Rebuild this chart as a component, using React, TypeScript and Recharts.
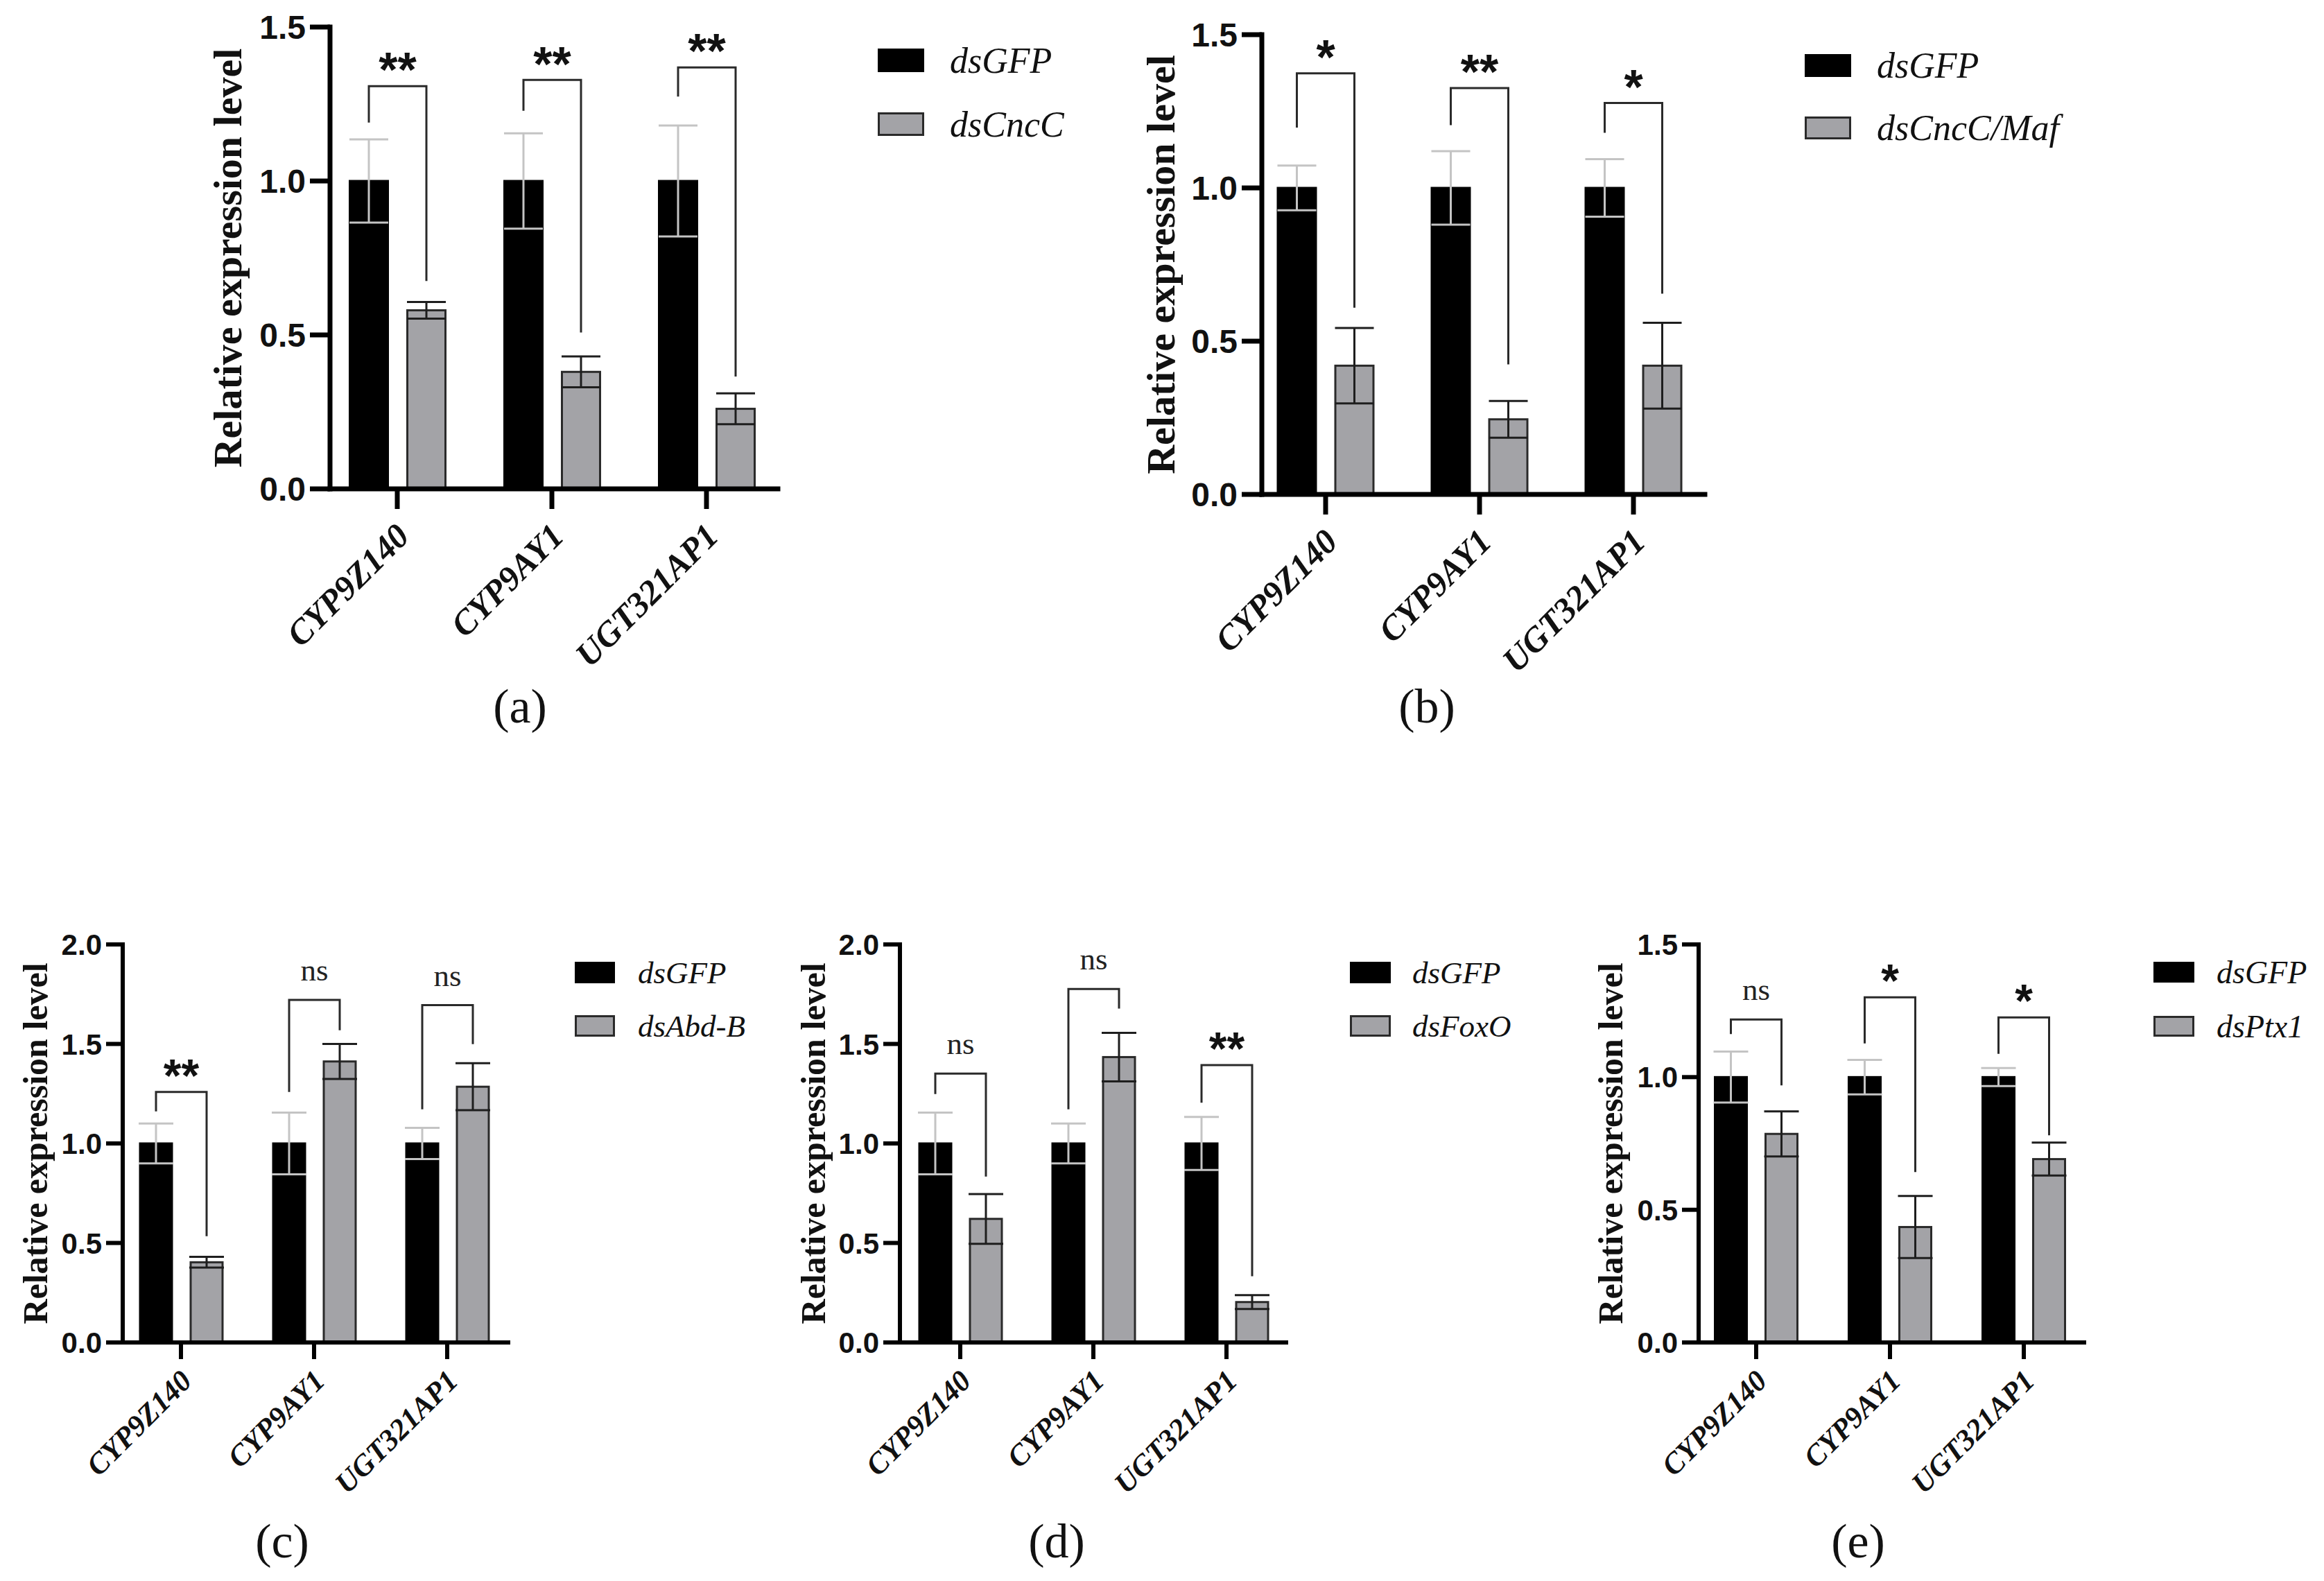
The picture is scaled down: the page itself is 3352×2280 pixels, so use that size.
import React from 'react';
import { BarChart, Bar, XAxis, YAxis, ErrorBar, Legend } from 'recharts';

// ---- shared categories and series names ----
const genes = ['CYP9Z140', 'CYP9AY1', 'UGT321AP1'];
const controlName = 'dsGFP';
const ticks15 = [0, 0.5, 1, 1.5];
const ticks20 = [0, 0.5, 1, 1.5, 2];

// ---- (a) dsCncC knockdown ----
const aTreatName = 'dsCncC';
const aControlMean = [1, 1, 1];
const aControlSem = [0.135, 0.155, 0.18];
const aTreatMean = [0.58, 0.38, 0.26];
const aTreatSem = [0.027, 0.05, 0.05];
const aSignif = ['**', '**', '**'];
const aBracketLeft = [1.19, 1.228, 1.274];
const aBracketTop = [1.308, 1.328, 1.369];
const aBracketRight = [0.675, 0.508, 0.365];

// ---- (b) dsCncC/Maf knockdown ----
const bTreatName = 'dsCncC/Maf';
const bControlMean = [1, 1, 1];
const bControlSem = [0.073, 0.12, 0.094];
const bTreatMean = [0.42, 0.245, 0.42];
const bTreatSem = [0.123, 0.06, 0.14];
const bSignif = ['*', '**', '*'];
const bBracketLeft = [1.197, 1.205, 1.18];
const bBracketTop = [1.374, 1.326, 1.277];
const bBracketRight = [0.609, 0.424, 0.655];

// ---- (c) dsAbd-B knockdown ----
const cTreatName = 'dsAbd-B';
const cControlMean = [1, 1, 1];
const cControlSem = [0.1, 0.155, 0.078];
const cTreatMean = [0.403, 1.412, 1.285];
const cTreatSem = [0.027, 0.088, 0.118];
const cSignif = ['**', 'ns', 'ns'];
const cBracketLeft = [1.161, 1.259, 1.172];
const cBracketTop = [1.259, 1.721, 1.695];
const cBracketRight = [0.534, 1.569, 1.499];

// ---- (d) dsFoxO knockdown ----
const dTreatName = 'dsFoxO';
const dControlMean = [1, 1, 1];
const dControlSem = [0.155, 0.1, 0.133];
const dTreatMean = [0.621, 1.434, 0.203];
const dTreatSem = [0.125, 0.122, 0.035];
const dSignif = ['ns', 'ns', '**'];
const dBracketLeft = [1.248, 1.172, 1.205];
const dBracketTop = [1.351, 1.776, 1.394];
const dBracketRight = [0.834, 1.678, 0.333];

// ---- (e) dsPtx1 knockdown ----
const eTreatName = 'dsPtx1';
const eControlMean = [1, 1, 1];
const eControlSem = [0.096, 0.065, 0.034];
const eTreatMean = [0.786, 0.435, 0.691];
const eTreatSem = [0.085, 0.117, 0.062];
const eSignif = ['ns', '*', '*'];
const eBracketLeft = [1.162, 1.127, 1.088];
const eBracketTop = [1.217, 1.301, 1.225];
const eBracketRight = [0.969, 0.642, 0.781];

const SERIF = '"Liberation Serif", "Times New Roman", serif';
const SANS = '"Liberation Sans", Arial, sans-serif';
const GREY = '#a3a3a7';
const OUTLINE = '#2a2a2a';
const BRACKET = '#2a2a2a';
const LIGHT_ERR = '#c4c4c4';
const DARK_ERR = '#1e1e1e';

function buildRows(cm: number[], cs: number[], tm: number[], ts: number[], sig: string[], bl: number[], bt: number[], br: number[]) {
  return genes.map((gene, i) => ({
    gene,
    control: cm[i],
    controlErr: cs[i],
    treat: tm[i],
    treatErr: ts[i],
    sig: sig[i],
    bl: bl[i],
    bt: bt[i],
    br: br[i],
  }));
}

type Spec = {
  letter: string;
  treatName: string;
  rows: any[];
  box: { left: number; top: number; width: number; height: number };
  marginTop: number;
  marginRight: number;
  yAxisWidth: number;
  xAxisHeight: number;
  padLeft: number;
  padRight: number;
  yMax: number;
  ticks: number[];
  barSize: number;
  barGap: number;
  axisStroke: number;
  tickLen: number;
  capWidth: number;
  yTickFont: number;
  xTickFont: number;
  xTickDx: number;
  xTickDy: number;
  yLabelX: number;
  yLabelFont: number;
  letterX: number;
  letterY: number;
  starFont: number;
  nsFont: number;
  legend: { left: number; rowY: number[]; sw: number; sh: number; textX: number; fs: number };
};

const big = {
  yMax: 1.5,
  ticks: ticks15,
  barSize: 55,
  barGap: 28,
  axisStroke: 7,
  tickLen: 29,
  capWidth: 28,
  yTickFont: 48,
  xTickFont: 50,
  xTickDx: 20,
  xTickDy: 42,
  yLabelFont: 58,
  starFont: 70,
  nsFont: 48,
};

const small = {
  barSize: 46,
  barGap: 27,
  axisStroke: 6,
  tickLen: 24,
  capWidth: 25,
  yTickFont: 42,
  xTickFont: 43,
  xTickDx: 18,
  xTickDy: 34,
  yLabelFont: 50,
  starFont: 66,
  nsFont: 45,
};

const specs: Spec[] = [
  {
    ...big,
    letter: '(a)',
    treatName: aTreatName,
    rows: buildRows(aControlMean, aControlSem, aTreatMean, aTreatSem, aSignif, aBracketLeft, aBracketTop, aBracketRight),
    box: { left: 280, top: 0, width: 1320, height: 1075 },
    marginTop: 39,
    marginRight: 478,
    yAxisWidth: 196,
    xAxisHeight: 370,
    padLeft: -14.5,
    padRight: -8.5,
    yLabelX: 48,
    letterX: 470,
    letterY: 1018,
    legend: { left: 986, rowY: [70, 162], sw: 67, sh: 34, textX: 104, fs: 52 },
  },
  {
    ...big,
    letter: '(b)',
    treatName: bTreatName,
    rows: buildRows(bControlMean, bControlSem, bTreatMean, bTreatSem, bSignif, bBracketLeft, bBracketTop, bBracketRight),
    box: { left: 1600, top: 0, width: 1752, height: 1075 },
    marginTop: 50,
    marginRight: 893,
    yAxisWidth: 220,
    xAxisHeight: 362,
    padLeft: -19,
    padRight: -8,
    yLabelX: 74,
    letterX: 458,
    letterY: 1018,
    legend: { left: 1003, rowY: [78, 168], sw: 67, sh: 33, textX: 104, fs: 52 },
  },
  {
    ...small,
    letter: '(c)',
    treatName: cTreatName,
    yMax: 2,
    ticks: ticks20,
    rows: buildRows(cControlMean, cControlSem, cTreatMean, cTreatSem, cSignif, cBracketLeft, cBracketTop, cBracketRight),
    box: { left: 0, top: 1300, width: 1100, height: 980 },
    marginTop: 62,
    marginRight: 367,
    yAxisWidth: 177,
    xAxisHeight: 344,
    padLeft: -12,
    padRight: -8,
    yLabelX: 51,
    letterX: 407,
    letterY: 922,
    legend: { left: 829, rowY: [87, 164], sw: 58, sh: 31, textX: 91, fs: 45 },
  },
  {
    ...small,
    letter: '(d)',
    treatName: dTreatName,
    yMax: 2,
    ticks: ticks20,
    rows: buildRows(dControlMean, dControlSem, dTreatMean, dTreatSem, dSignif, dBracketLeft, dBracketTop, dBracketRight),
    box: { left: 1100, top: 1300, width: 1150, height: 980 },
    marginTop: 62,
    marginRight: 395,
    yAxisWidth: 198,
    xAxisHeight: 344,
    padLeft: -9,
    padRight: -10,
    yLabelX: 73,
    letterX: 424,
    letterY: 922,
    legend: { left: 847, rowY: [87, 164], sw: 59, sh: 31, textX: 90, fs: 45 },
  },
  {
    ...small,
    letter: '(e)',
    treatName: eTreatName,
    yMax: 1.5,
    ticks: ticks15,
    rows: buildRows(eControlMean, eControlSem, eTreatMean, eTreatSem, eSignif, eBracketLeft, eBracketTop, eBracketRight),
    box: { left: 2250, top: 1300, width: 1102, height: 980 },
    marginTop: 62,
    marginRight: 346,
    yAxisWidth: 200,
    xAxisHeight: 344,
    padLeft: -13.5,
    padRight: -9.5,
    yLabelX: 73,
    letterX: 430,
    letterY: 922,
    legend: { left: 856, rowY: [87, 165], sw: 59, sh: 30, textX: 91, fs: 46 },
  },
];

function Panel({ s }: { s: Spec }) {
  const plotTop = s.marginTop;
  const plotBottom = s.box.height - s.xAxisHeight;

  // grey bar plus the significance bracket linking it to the dsGFP bar of the same gene
  const TreatShape = (props: any) => {
    const { x, y, width, height, payload } = props;
    if (x == null || !payload || !payload.treat) return null;
    const base = y + height;
    const k = height / payload.treat;
    const py = (v: number) => base - v * k;
    const rx = x + width / 2;
    const lx = x - s.barGap - width / 2;
    const top = py(payload.bt);
    const isNs = payload.sig === 'ns';
    return (
      <g>
        <rect x={x} y={y} width={width} height={height} fill={GREY} stroke={OUTLINE} strokeWidth={3} />
        <path
          d={`M${lx},${py(payload.bl)}V${top}H${rx}V${py(payload.br)}`}
          fill="none"
          stroke={BRACKET}
          strokeWidth={3}
        />
        {isNs ? (
          <text x={(lx + rx) / 2} y={top - 28} textAnchor="middle" fontFamily={SERIF} fontSize={s.nsFont} fill="#222">
            ns
          </text>
        ) : (
          <text
            x={(lx + rx) / 2}
            y={top - 38 + 0.56 * s.starFont}
            textAnchor="middle"
            fontFamily={SANS}
            fontWeight="bold"
            fontSize={s.starFont}
            fill="#111"
          >
            {payload.sig}
          </text>
        )}
      </g>
    );
  };

  const ControlShape = (props: any) => {
    const { x, y, width, height } = props;
    if (x == null) return null;
    return <rect x={x} y={y} width={width} height={height} fill="#000" stroke="#000" strokeWidth={3} />;
  };

  const YTick = (props: any) => {
    const { x, y, payload } = props;
    return (
      <text x={x} y={y} dy="0.36em" textAnchor="end" fontFamily={SANS} fontWeight="bold" fontSize={s.yTickFont} fill="#111">
        {Number(payload.value).toFixed(1)}
      </text>
    );
  };

  const XTick = (props: any) => {
    const { x, y, payload } = props;
    return (
      <g transform={`translate(${x + s.xTickDx},${y + s.xTickDy})`}>
        <text
          x={0}
          y={0}
          textAnchor="end"
          transform="rotate(-45)"
          fontFamily={SERIF}
          fontStyle="italic"
          fontWeight="bold"
          fontSize={s.xTickFont}
          fill="#111"
        >
          {payload.value}
        </text>
      </g>
    );
  };

  const YLabel = () => (
    <text
      transform={`translate(${s.yLabelX},${(plotTop + plotBottom) / 2}) rotate(-90)`}
      textAnchor="middle"
      dominantBaseline="central"
      fontFamily={SERIF}
      fontWeight="bold"
      fontSize={s.yLabelFont}
      fill="#111"
    >
      Relative expression level
    </text>
  );

  const PanelLetter = () => (
    <text
      x={s.letterX}
      y={s.letterY}
      textAnchor="middle"
      dominantBaseline="central"
      fontFamily={SERIF}
      fontSize={70}
      fill="#111"
    >
      {s.letter}
    </text>
  );

  const lg = s.legend;
  const LegendBox = () => (
    <svg width={lg.textX + 320} height={lg.rowY[1] + lg.sh + 20} style={{ display: 'block', overflow: 'visible' }}>
      {[controlName, s.treatName].map((name, i) => (
        <g key={name}>
          <rect
            x={1.5}
            y={lg.rowY[i] + 1.5}
            width={lg.sw - 3}
            height={lg.sh - 3}
            fill={i === 0 ? '#000' : GREY}
            stroke={i === 0 ? '#000' : OUTLINE}
            strokeWidth={3}
          />
          <text
            x={lg.textX}
            y={lg.rowY[i] + lg.sh / 2}
            dominantBaseline="central"
            fontFamily={SERIF}
            fontStyle="italic"
            fontSize={lg.fs}
            fill="#111"
          >
            {name}
          </text>
        </g>
      ))}
    </svg>
  );

  const axisLine = { stroke: '#000', strokeWidth: s.axisStroke, strokeLinecap: 'square' as const };
  const tickLine = { stroke: '#000', strokeWidth: s.axisStroke };

  return (
    <div style={{ position: 'absolute', left: s.box.left, top: s.box.top, width: s.box.width, height: s.box.height }}>
      <BarChart
        width={s.box.width}
        height={s.box.height}
        data={s.rows}
        margin={{ top: s.marginTop, right: s.marginRight, bottom: 0, left: 0 }}
        barSize={s.barSize}
        barGap={s.barGap}
      >
        <XAxis
          dataKey="gene"
          interval={0}
          height={s.xAxisHeight}
          padding={{ left: s.padLeft, right: s.padRight }}
          tickSize={s.tickLen}
          tickMargin={0}
          axisLine={axisLine}
          tickLine={tickLine}
          tick={XTick}
          label={{ content: PanelLetter }}
        />
        <YAxis
          type="number"
          domain={[0, s.yMax]}
          ticks={s.ticks}
          width={s.yAxisWidth}
          tickSize={s.tickLen}
          tickMargin={6}
          axisLine={axisLine}
          tickLine={tickLine}
          tick={YTick}
          label={{ content: YLabel }}
        />
        <Legend
          layout="vertical"
          align="center"
          verticalAlign="middle"
          wrapperStyle={{ left: lg.left, top: 0, width: lg.textX + 320, height: lg.rowY[1] + lg.sh + 20 }}
          content={LegendBox}
        />
        <Bar dataKey="control" name={controlName} fill="#000" shape={ControlShape} isAnimationActive={false}>
          <ErrorBar dataKey="controlErr" width={s.capWidth} strokeWidth={3} stroke={LIGHT_ERR} isAnimationActive={false} />
        </Bar>
        <Bar dataKey="treat" name={s.treatName} fill={GREY} shape={TreatShape} isAnimationActive={false}>
          <ErrorBar dataKey="treatErr" width={s.capWidth} strokeWidth={3} stroke={DARK_ERR} isAnimationActive={false} />
        </Bar>
      </BarChart>
    </div>
  );
}

export default function App() {
  return (
    <div style={{ position: 'absolute', left: 0, top: 0, width: 3352, height: 2280, background: '#fff', overflow: 'hidden' }}>
      {specs.map((s) => (
        <Panel key={s.letter} s={s} />
      ))}
    </div>
  );
}
